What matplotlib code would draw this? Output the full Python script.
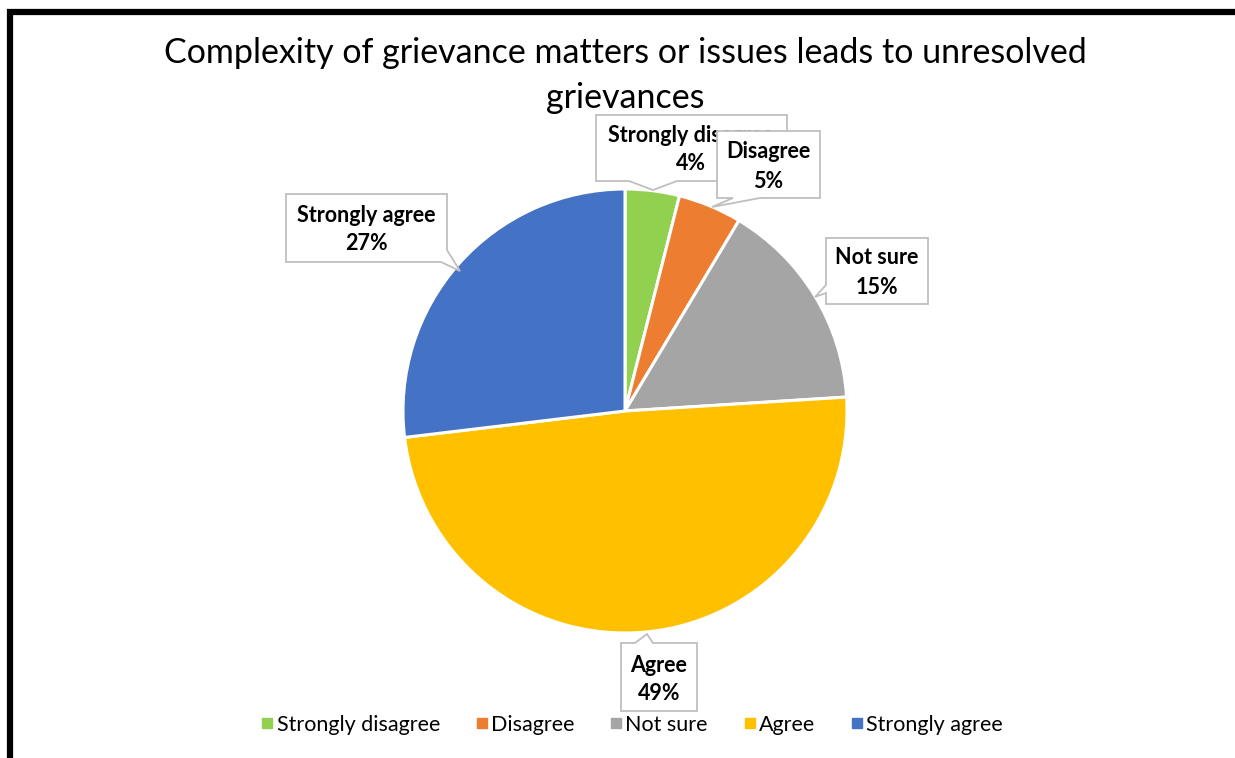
import matplotlib
matplotlib.use("Agg")
import matplotlib.pyplot as plt
from matplotlib.patches import Polygon
from matplotlib.lines import Line2D

# ---- data ----
categories = ["Strongly disagree", "Disagree", "Not sure", "Agree", "Strongly agree"]
values = [3.95, 4.63, 15.42, 49.1, 26.9]
colors = ["#92D050", "#ED7D31", "#A5A5A5", "#FFC000", "#4472C4"]
title_lines = ["Complexity of grievance matters or issues leads to unresolved", "grievances"]

W, H = 1235, 758
plt.rcParams['font.family'] = ['Lato', 'DejaVu Sans']

fig = plt.figure(figsize=(W / 100, H / 100), dpi=100)
ax = fig.add_axes([0, 0, 1, 1])

def Y(y):
    return H - y

ax.pie(values, colors=colors, startangle=90, counterclock=False,
       center=(625, Y(411)), radius=222,
       wedgeprops=dict(edgecolor='white', linewidth=2.2))
ax.set_xlim(0, W)
ax.set_ylim(0, H)
ax.set_aspect('auto')
ax.axis('off')

# frame border (thick black, left & top)
ax.plot([10, 10, W + 5], [Y(H + 5), Y(12), Y(12)], color='black', lw=4.5,
        solid_joinstyle='miter', clip_on=False, zorder=10)

# title
ax.text(625, Y(53), title_lines[0], ha='center', va='center', fontsize=24.5, color='black')
ax.text(625, Y(98), title_lines[1], ha='center', va='center', fontsize=24.5, color='black')

# callout label boxes (image-pixel coordinates)
callouts = {
    "Strongly disagree": [(596, 115), (787, 115), (787, 181), (677, 181), (653, 190), (629, 181), (596, 181)],
    "Disagree": [(717, 131), (820, 131), (820, 198), (760, 198), (712, 207), (733, 198), (717, 198)],
    "Not sure": [(826, 238), (928, 238), (928, 304), (826, 304), (826, 293), (815, 297), (826, 285)],
    "Agree": [(621, 643), (635, 643), (647, 634), (653, 643), (697, 643), (697, 711), (621, 711)],
    "Strongly agree": [(286, 194), (447, 194), (447, 250), (460, 271), (441, 262), (286, 262)],
}
text_pos = {
    "Strongly disagree": (691, 135, 163),
    "Disagree": (768, 152, 181),
    "Not sure": (877, 257, 287),
    "Agree": (659, 665, 693),
    "Strongly agree": (366, 216, 244),
}
total = sum(values)
z = 3
for cat, val in zip(categories, values):
    poly = [(x, Y(y)) for x, y in callouts[cat]]
    ax.add_patch(Polygon(poly, closed=True, facecolor='white', edgecolor='#BFBFBF',
                         lw=1.3, zorder=z))
    tx, y1, y2 = text_pos[cat]
    pct = f"{round(val / total * 100):d}%"
    ax.text(tx, Y(y1), cat, ha='center', va='center', fontsize=15.5, fontweight='bold',
            color='black', zorder=z + 1)
    ax.text(tx, Y(y2), pct, ha='center', va='center', fontsize=15.5, fontweight='bold',
            color='black', zorder=z + 1)
    z += 2

# legend
handles = [Line2D([0], [0], marker='s', color='none', markerfacecolor=c,
                  markeredgecolor=c, markersize=7) for c in colors]
leg = ax.legend(handles, categories, loc='center', bbox_to_anchor=(632 / W, 1 - 725 / H),
                ncol=5, frameon=False, fontsize=15.5, handlelength=0.6,
                handletextpad=0.12, columnspacing=1.65, borderaxespad=0)

fig.savefig("out.png", dpi=100)
